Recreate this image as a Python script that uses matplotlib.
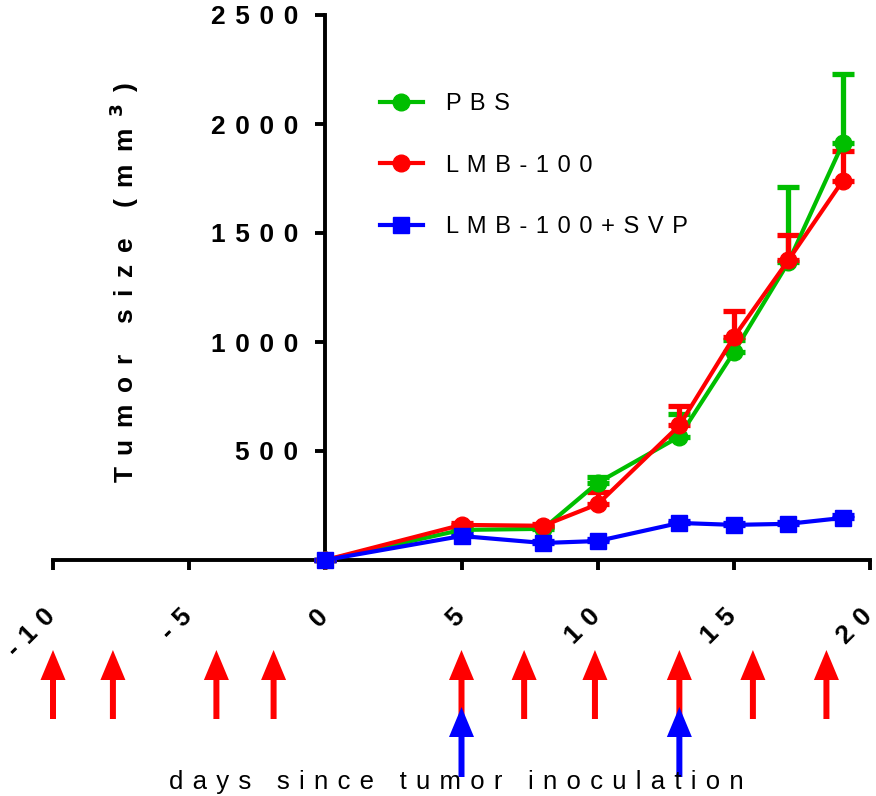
import matplotlib
matplotlib.use('Agg')
import matplotlib.pyplot as plt
from matplotlib.patches import FancyArrow
from matplotlib.lines import Line2D
from matplotlib.transforms import blended_transform_factory, ScaledTranslation

plt.rcParams['font.family'] = ['Liberation Sans', 'DejaVu Sans']

# ---- data ----
days = [0, 5, 8, 10, 13, 15, 17, 19]
pbs = [0, 138, 143, 354, 566, 953, 1365, 1911]
pbs_err = [0, 10, 10, 28, 102, 55, 348, 317]
lmb = [0, 161, 157, 256, 617, 1022, 1375, 1740]
lmb_err = [0, 10, 10, 55, 88, 120, 117, 134]
svp = [0, 110, 78, 87, 170, 161, 166, 193]
svp_err = [0, 8, 8, 8, 10, 10, 10, 12]

lmb_doses = [-10, -7.8, -4, -1.9, 5, 7.3, 9.9, 13, 15.7, 18.4]
svp_doses = [5, 13]

xticks = [-10, -5, 0, 5, 10, 15, 20]
yticks = [500, 1000, 1500, 2000, 2500]
series_names = ['PBS', 'LMB-100', 'LMB-100+SVP']
colors = ['#00BE00', '#FF0000', '#0000FF']
markers = ['o', 'o', 's']

SEP = ' \u200a'
SEP_WIDE = ' \u2006'


def track(s, sep=SEP):
    words = s.split(' ')
    return (sep + ' ' + sep).join(sep.join(list(w)) for w in words)


W, H = 876, 796
fig = plt.figure(figsize=(W / 100, H / 100), dpi=100)
ax = fig.add_axes([53 / W, 1 - 560 / H, 817 / W, 545 / H])

for y, e, c, m in zip([pbs, lmb, svp], [pbs_err, lmb_err, svp_err], colors, markers):
    ax.errorbar(days, y, yerr=[[0] * len(e), e], color=c, marker=m,
                markersize=12 if m == 'o' else 11.5, lw=3, elinewidth=3.8,
                capsize=8, capthick=3.8, clip_on=False, zorder=3)

ax.set_xlim(-10, 20)
ax.set_ylim(0, 2500)
for s in ['top', 'right']:
    ax.spines[s].set_visible(False)
ax.spines['left'].set_position(('data', 0))
for s in ['left', 'bottom']:
    ax.spines[s].set_linewidth(2.8)

ax.set_xticks(xticks)
ax.set_xticklabels([])
ax.set_yticks(yticks)
ax.set_yticklabels([track(str(t)) for t in yticks])
ax.tick_params(axis='both', direction='out', length=7.5, width=2.8,
               labelsize=19)
ax.tick_params(axis='y', pad=12)
for lab in ax.get_yticklabels():
    lab.set_fontweight('bold')

# rotated x tick labels, anchored below each tick
xlab_tr = (blended_transform_factory(ax.transData, ax.transAxes)
           + ScaledTranslation(-1 / 100, -53 / 100, fig.dpi_scale_trans))
for t in xticks:
    ax.text(t, 0, track(str(t)), transform=xlab_tr, rotation=45,
            rotation_mode='anchor', ha='right', va='center',
            fontsize=19, fontweight='bold', clip_on=False)

# legend
handles = [Line2D([], [], color=c, marker=m, lw=3, markersize=12 if m == 'o' else 11.5)
           for c, m in zip(colors, markers)]
ax.legend(handles, [track(n) for n in series_names], loc='upper left',
          bbox_to_anchor=(380 / W, 1 - 93 / H), bbox_transform=fig.transFigure,
          frameon=False, fontsize=17, handlelength=1.8, handletextpad=1.0,
          labelspacing=1.68, borderpad=0, borderaxespad=0)

# axis labels
fig.text(124 / W, 1 - 282 / H,
         track('Tumor size (mm', SEP_WIDE) + SEP_WIDE + '$^{\\mathbf{3}}$' + SEP_WIDE + ')',
         rotation=90, ha='center', va='center', fontsize=19, fontweight='bold')
fig.text(456 / W, 1 - 782 / H, track('days since tumor inoculation'),
         ha='center', va='center', fontsize=18.5)

# dosing arrows
tr = blended_transform_factory(ax.transData, fig.transFigure)
px_day = 817 / 30
for d in lmb_doses:
    ax.add_patch(FancyArrow(d, 1 - 719 / H, 0, (719 - 650) / H, width=6 / px_day,
                            head_width=25 / px_day, head_length=30 / H,
                            length_includes_head=True, color='#FF0000', lw=0,
                            transform=tr, clip_on=False, zorder=4))
for d in svp_doses:
    ax.add_patch(FancyArrow(d, 1 - 777 / H, 0, (777 - 707) / H, width=6 / px_day,
                            head_width=25 / px_day, head_length=30 / H,
                            length_includes_head=True, color='#0000FF', lw=0,
                            transform=tr, clip_on=False, zorder=5))

fig.savefig('out.png', dpi=100)
